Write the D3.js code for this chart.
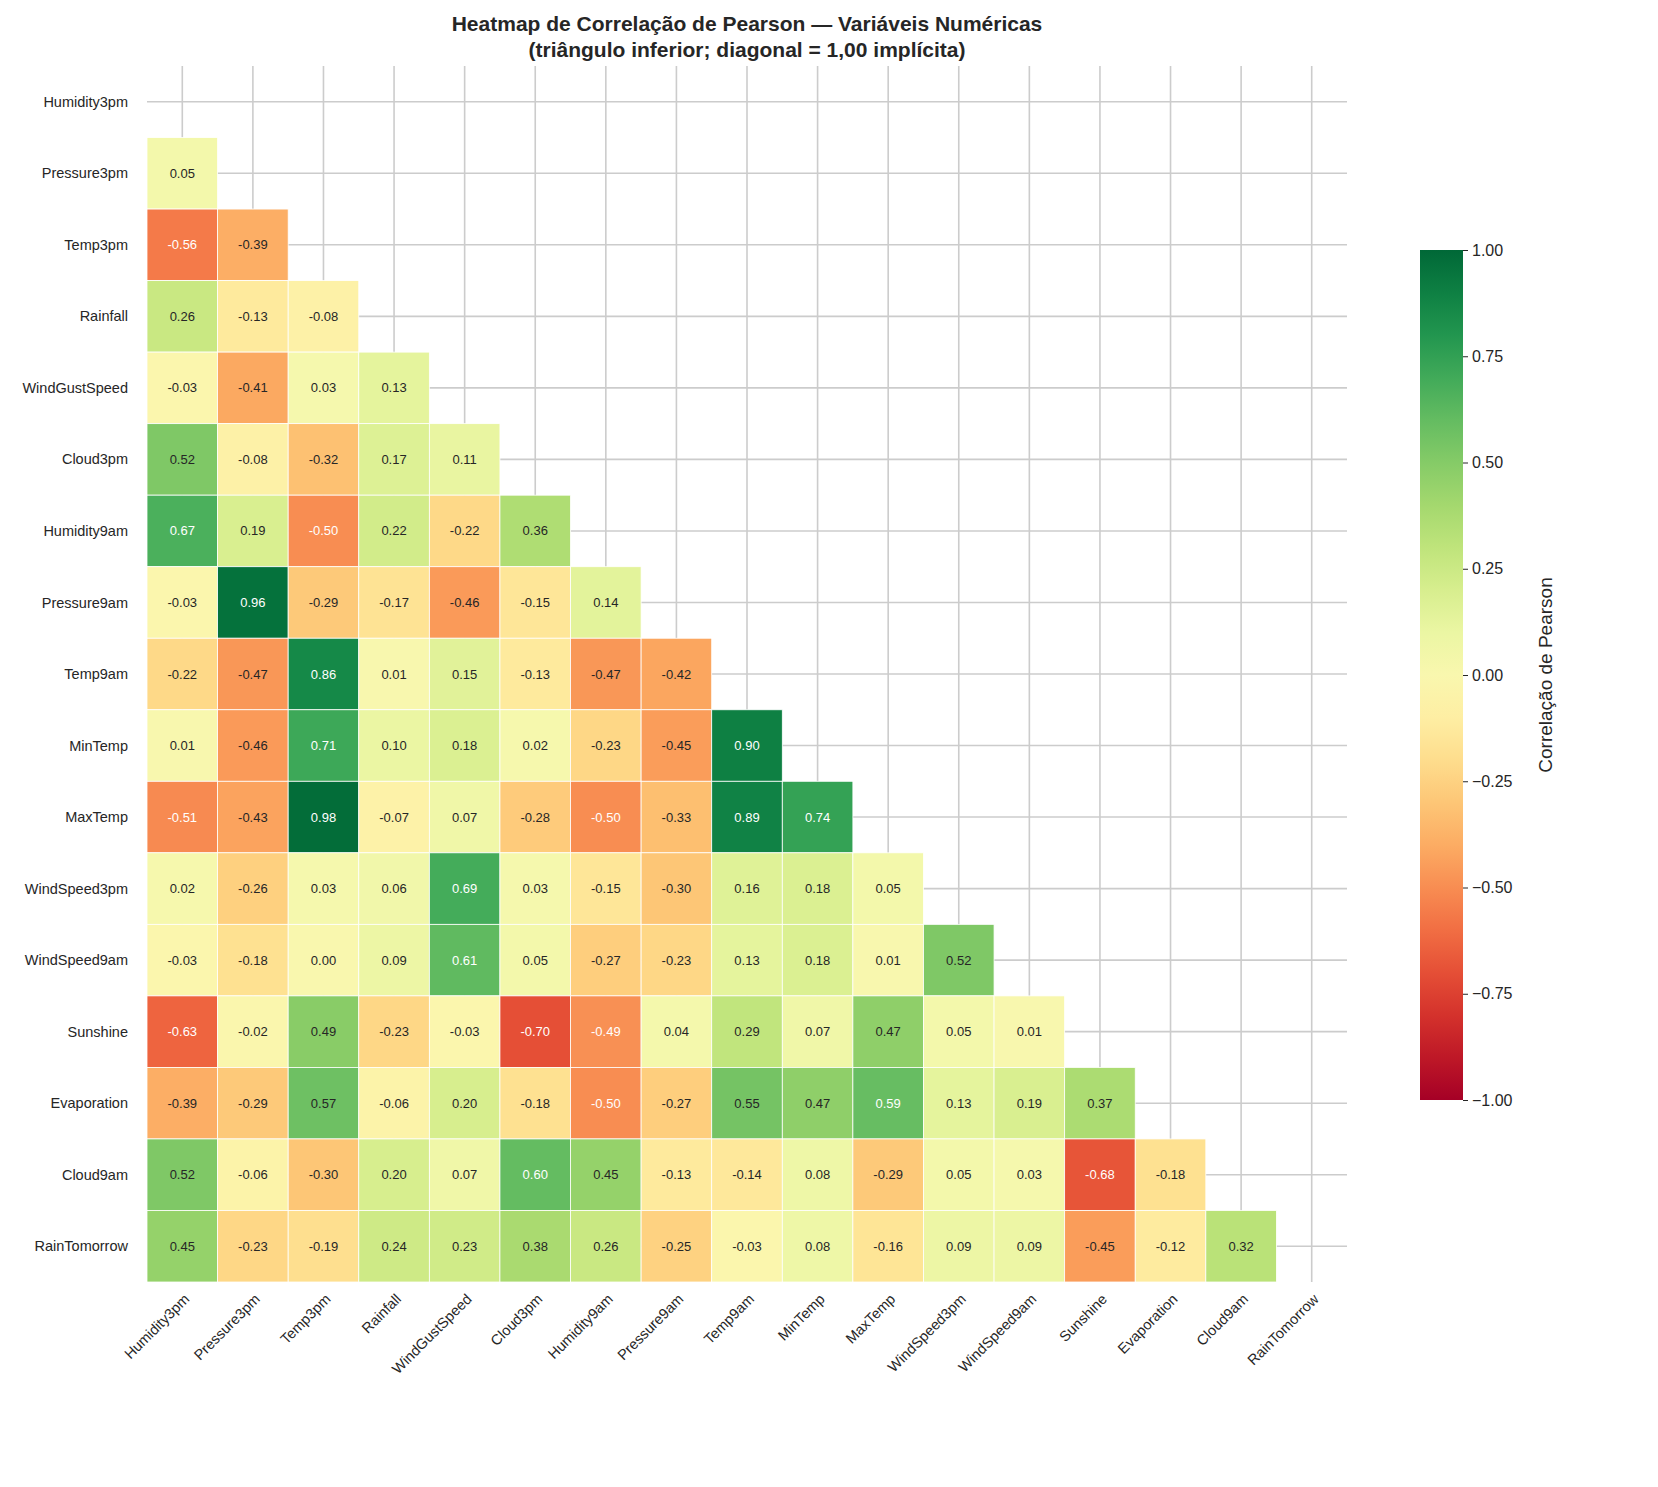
<!DOCTYPE html>
<html><head><meta charset="utf-8">
<script src="https://cdn.jsdelivr.net/npm/d3@7"></script>
<style>body{margin:0;background:#fff}text{font-family:Arial,"Liberation Sans",sans-serif}</style>
</head><body><svg id="c" width="1658" height="1487"></svg>
<script>
var vars = ["Humidity3pm","Pressure3pm","Temp3pm","Rainfall","WindGustSpeed","Cloud3pm","Humidity9am","Pressure9am","Temp9am","MinTemp","MaxTemp","WindSpeed3pm","WindSpeed9am","Sunshine","Evaporation","Cloud9am","RainTomorrow"];
// lower triangle rows, row i has i values
var rows = [
 [],
 [0.05],
 [-0.56,-0.39],
 [0.26,-0.13,-0.08],
 [-0.03,-0.41,0.03,0.13],
 [0.52,-0.08,-0.32,0.17,0.11],
 [0.67,0.19,-0.50,0.22,-0.22,0.36],
 [-0.03,0.96,-0.29,-0.17,-0.46,-0.15,0.14],
 [-0.22,-0.47,0.86,0.01,0.15,-0.13,-0.47,-0.42],
 [0.01,-0.46,0.71,0.10,0.18,0.02,-0.23,-0.45,0.90],
 [-0.51,-0.43,0.98,-0.07,0.07,-0.28,-0.50,-0.33,0.89,0.74],
 [0.02,-0.26,0.03,0.06,0.69,0.03,-0.15,-0.30,0.16,0.18,0.05],
 [-0.03,-0.18,0.00,0.09,0.61,0.05,-0.27,-0.23,0.13,0.18,0.01,0.52],
 [-0.63,-0.02,0.49,-0.23,-0.03,-0.70,-0.49,0.04,0.29,0.07,0.47,0.05,0.01],
 [-0.39,-0.29,0.57,-0.06,0.20,-0.18,-0.50,-0.27,0.55,0.47,0.59,0.13,0.19,0.37],
 [0.52,-0.06,-0.30,0.20,0.07,0.60,0.45,-0.13,-0.14,0.08,-0.29,0.05,0.03,-0.68,-0.18],
 [0.45,-0.23,-0.19,0.24,0.23,0.38,0.26,-0.25,-0.03,0.08,-0.16,0.09,0.09,-0.45,-0.12,0.32]
];
var cbTicks = [-1,-0.75,-0.5,-0.25,0,0.25,0.5,0.75,1];

var svg = d3.select("#c");
var L=147,R=1347,T=66,B=1282;
var x = d3.scaleBand().domain(vars).range([L,R]);
var y = d3.scaleBand().domain(vars).range([T,B]);
var color = v => d3.interpolateRdYlGn((v+1)/2);

// grid lines (behind)
var g = svg.append("g");
vars.forEach(v=>{
  g.append("line").attr("x1",x(v)+x.bandwidth()/2).attr("x2",x(v)+x.bandwidth()/2).attr("y1",T).attr("y2",B).attr("stroke","#cccccc").attr("stroke-width",1.6);
  g.append("line").attr("y1",y(v)+y.bandwidth()/2).attr("y2",y(v)+y.bandwidth()/2).attr("x1",L).attr("x2",R).attr("stroke","#cccccc").attr("stroke-width",1.6);
});

var cells=[];
rows.forEach((r,i)=>r.forEach((v,j)=>cells.push({r:vars[i],c:vars[j],v:v})));
function lum(c){var q=d3.rgb(c);var f=k=>{k/=255;return k<=0.03928?k/12.92:Math.pow((k+0.055)/1.055,2.4)};return 0.2126*f(q.r)+0.7152*f(q.g)+0.0722*f(q.b);}
svg.selectAll("rect.cell").data(cells).enter().append("rect")
 .attr("x",d=>x(d.c)).attr("y",d=>y(d.r)).attr("width",x.bandwidth()).attr("height",y.bandwidth())
 .attr("fill",d=>color(d.v)).attr("stroke","#fff").attr("stroke-width",0.8);
svg.selectAll("text.val").data(cells).enter().append("text")
 .attr("x",d=>x(d.c)+x.bandwidth()/2).attr("y",d=>y(d.r)+y.bandwidth()/2).attr("dy","0.35em")
 .attr("text-anchor","middle").attr("font-size",13)
 .attr("fill",d=>lum(color(d.v))>0.408?"#262626":"#fff").text(d=>d.v.toFixed(2));

// y labels
vars.forEach(v=>svg.append("text").attr("x",L-19).attr("y",y(v)+y.bandwidth()/2).attr("dy","0.35em").attr("text-anchor","end").attr("font-size",14.5).attr("fill","#262626").text(v));
// x labels
vars.forEach(v=>{var cx=x(v)+x.bandwidth()/2;svg.append("text").attr("transform","translate("+(cx+8)+","+(B+18)+") rotate(-45)").attr("text-anchor","end").attr("font-size",14.5).attr("fill","#262626").text(v);});

// title
svg.append("text").attr("x",747).attr("y",31).attr("text-anchor","middle").attr("font-size",21).attr("font-weight","bold").attr("fill","#262626").text("Heatmap de Correlação de Pearson — Variáveis Numéricas");
svg.append("text").attr("x",747).attr("y",57).attr("text-anchor","middle").attr("font-size",21).attr("font-weight","bold").attr("fill","#262626").text("(triângulo inferior; diagonal = 1,00 implícita)");

// colorbar
var cbX=1420,cbW=43,cbT=250,cbB=1100;
var cy = d3.scaleLinear().domain([-1,1]).range([cbB,cbT]);
var defs=svg.append("defs");var grad=defs.append("linearGradient").attr("id","gr").attr("x1",0).attr("x2",0).attr("y1",1).attr("y2",0);
d3.range(0,1.0001,0.05).forEach(t=>grad.append("stop").attr("offset",t).attr("stop-color",d3.interpolateRdYlGn(t)));
svg.append("rect").attr("x",cbX).attr("y",cbT).attr("width",cbW).attr("height",cbB-cbT).attr("fill","url(#gr)");
var ax=svg.append("g").attr("transform","translate("+(cbX+cbW)+",0)").call(d3.axisRight(cy).tickValues(cbTicks).tickFormat(d=>d3.format(".2f")(d).replace("-","−")).tickSize(5).tickPadding(4));
ax.select(".domain").remove();
ax.selectAll("text").attr("font-size",16).attr("fill","#262626");
ax.selectAll("line").attr("stroke","#262626");
svg.append("text").attr("transform","translate(1552,675) rotate(-90)").attr("text-anchor","middle").attr("font-size",19).attr("fill","#262626").text("Correlação de Pearson");
</script></body></html>
